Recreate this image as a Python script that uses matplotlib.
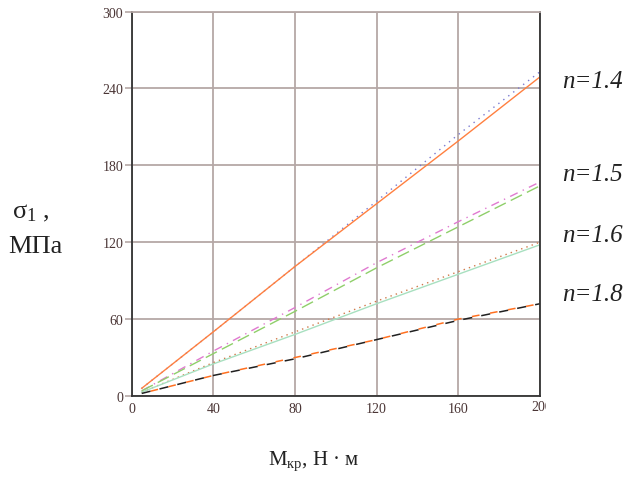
import matplotlib
matplotlib.use("Agg")
import matplotlib.pyplot as plt
from matplotlib.transforms import Bbox, TransformedBbox

plt.rcParams['mathtext.fontset'] = 'custom'
plt.rcParams['mathtext.rm'] = 'Liberation Serif'
plt.rcParams['mathtext.it'] = 'Liberation Serif:italic'

# Data
m_kr = [5, 40, 80, 120, 160, 200]
n14_solid = [6, 50, 101, 150, 199, 249]
n14_dot = [6, 50, 101, 152, 204, 253]
n15_dashdot = [4, 35, 69, 104, 136, 167]
n15_dash = [4, 33, 66, 100, 132, 164]
n16_dot = [3, 26, 50, 74, 97, 120]
n16_solid = [3, 25, 48, 72, 95, 118]
n18_black = [2, 16, 29, 44, 59, 72]
n18_orange = [2, 16, 30, 44, 60, 72]
x_ticks = [0, 40, 80, 120, 160, 200]
x_tick_labels = ["0", "40", "80", "120", "160", "200"]
y_ticks = [0, 60, 120, 180, 240, 300]
n_labels = ["n=1.4", "n=1.5", "n=1.6", "n=1.8"]

fig = plt.figure(figsize=(6.29, 4.81), dpi=100)
ax = fig.add_axes([131.5/629, 84/481, 408.5/629, 384.5/481])

ax.plot(m_kr, n14_dot, color='#7b7bd0', lw=1.0, ls=(0, (1, 3.5)))
ax.plot(m_kr, n14_solid, color='#ff8040', lw=1.0)
ax.plot(m_kr, n15_dashdot, color='#e07ad0', lw=1.0, ls=(0, (6, 4, 1, 4)))
ax.plot(m_kr, n15_dash, color='#8fcf6a', lw=1.0, ls=(0, (9, 4)))
ax.plot(m_kr, n16_dot, color='#d07a4a', lw=1.0, ls=(0, (1, 3)))
ax.plot(m_kr, n16_solid, color='#a8e0c0', lw=1.0)
ax.plot(m_kr, n18_black, color='#202020', lw=1.1, ls=(0, (6, 6)))
ax.plot(m_kr, n18_orange, color='#ff7020', lw=1.1, ls=(6, (5, 7)))

ax.set_xlim(0, 200)
ax.set_ylim(0, 300)
ax.set_xticks(x_ticks)
ax.set_xticklabels(x_tick_labels[:-1] + [""])
ax.set_yticks(y_ticks)
ax.grid(True, color='#b5a8a6', lw=1.3)
ax.set_axisbelow(True)
for s in ['left', 'bottom', 'right']:
    ax.spines[s].set_color('#333333')
    ax.spines[s].set_linewidth(1.3)
ax.spines['top'].set_color('#b5a8a6')
ax.spines['top'].set_linewidth(1.3)
ax.tick_params(axis='both', length=0, labelsize=10, labelcolor='#4a3535', pad=4)
ax.tick_params(axis='y', length=5, color='#b5a8a6', width=1.2, pad=1)
for lab in ax.get_xticklabels() + ax.get_yticklabels():
    lab.set_family('Liberation Serif')

# last x tick label, clipped at the right like the original
last = fig.text(540/629, 1 - 401/481, x_tick_labels[-1], ha='left', va='top',
                fontsize=10, family='Liberation Serif', color='#4a3535')
last.set_x(531.5/629)
last.set_clip_box(TransformedBbox(Bbox([[0, 0], [546/629, 1]]), fig.transFigure))
last.set_clip_on(True)

ypos = [82, 175, 236, 295]
for lab, yp in zip(n_labels, ypos):
    fig.text(562/629, 1 - yp/481, lab, family='Liberation Serif', style='italic',
             fontsize=18, va='center', ha='left', color='#222222')

fig.text(12/629, 1 - 213/481, r'$\mathrm{σ_1}$ ,', family='Liberation Serif', fontsize=19,
         va='center', ha='left', color='#222222')
fig.text(8/629, 1 - 247/481, 'МПа', family='Liberation Serif', fontsize=19,
         va='center', ha='left', color='#222222')
fig.text(314/629, 1 - 461/481, r'$\mathrm{M_{кр}}$, Н · м', family='Liberation Serif',
         fontsize=15, va='center', ha='center', color='#222222')

fig.savefig('out.png', dpi=100)
